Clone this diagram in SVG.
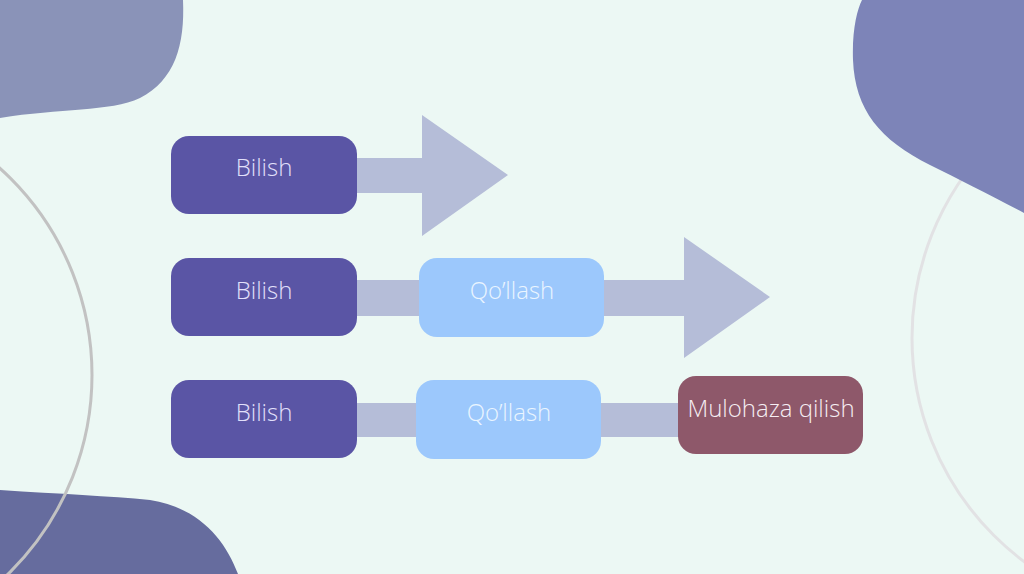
<svg xmlns="http://www.w3.org/2000/svg" width="1024" height="574" viewBox="0 0 1024 574">
<style>
.lbl{font-family:"Open Sans Light","Open Sans","Noto Sans","Liberation Sans",sans-serif;font-weight:300;font-size:24px;text-anchor:middle}
.b{fill:#5a55a5}.bt{fill:#e2e0fb}
.q{fill:#9cc8fc}.qt{fill:#eaf5ff}
.m{fill:#8e586a}.mt{fill:#f6eef3}
.conn{fill:#b5bdd8}
</style>
<rect width="1024" height="574" fill="#ecf8f4"/>
<g id="decor">
<circle cx="1191" cy="338" r="279" fill="none" stroke="#e2e2e4" stroke-width="3"/>
<path d="M0,0 H183 C185,45 175,80 140,98 C110,112 60,108 0,118 Z" fill="#8a93b8"/>
<path d="M862,0 H1024 V213 C990,195 960,180 930,165 C880,140 855,110 853,60 C852,30 857,10 862,0 Z" fill="#7d84b8"/>
<path d="M0,490 C60,494 110,496 150,500 C200,508 225,540 238,574 H0 Z" fill="#666c9e"/>
<circle cx="-186" cy="375" r="278" fill="none" stroke="#c2c2c2" stroke-width="3"/>
</g>
<g id="connectors">
<path class="conn" d="M350,158 H422 V115 L508,175 L422,236 V193 H350 Z"/>
<path class="conn" d="M350,280 H684 V237 L770,297 L684,358 V316 H350 Z"/>
<rect class="conn" x="350" y="403" width="335" height="34"/>
</g>
<g id="row1-bilish"><rect class="b" x="171" y="136" width="186" height="78" rx="18"/><text class="lbl bt" x="264" y="176">Bilish</text></g>
<g id="row2-bilish"><rect class="b" x="171" y="258" width="186" height="78" rx="18"/><text class="lbl bt" x="264" y="299">Bilish</text></g>
<g id="row2-qollash"><rect class="q" x="419" y="258" width="185" height="79" rx="18"/><text class="lbl qt" x="512" y="299">Qo’llash</text></g>
<g id="row3-bilish"><rect class="b" x="171" y="380" width="186" height="78" rx="18"/><text class="lbl bt" x="264" y="421">Bilish</text></g>
<g id="row3-qollash"><rect class="q" x="416" y="380" width="185" height="79" rx="18"/><text class="lbl qt" x="509" y="421">Qo’llash</text></g>
<g id="row3-mulohaza"><rect class="m" x="678" y="376" width="185" height="78" rx="18"/><text class="lbl mt" x="771" y="417">Mulohaza qilish</text></g>
</svg>
